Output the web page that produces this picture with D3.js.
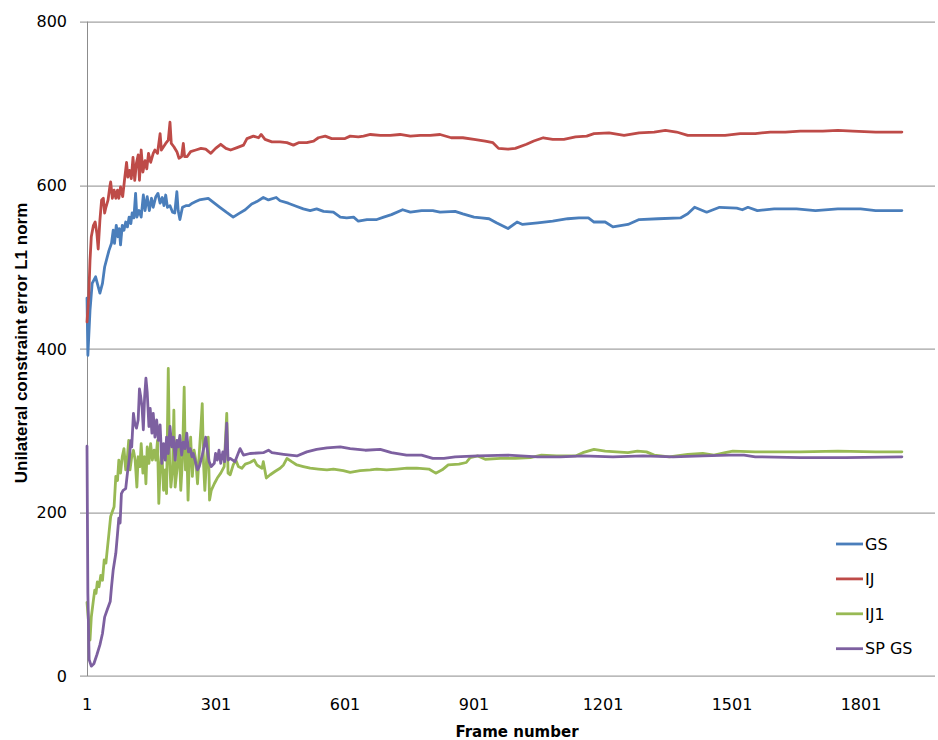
<!DOCTYPE html>
<html>
<head>
<meta charset="utf-8">
<script src="https://cdn.jsdelivr.net/npm/d3@7"></script>
<style>
  body { margin: 0; background: #fff; }
</style>
</head>
<body>
<div id="wrapper"></div>
<script>
// series names + colours
const seriesNames = ["GS", "IJ", "IJ1", "SP GS"];
const seriesColors = ["#4a7ebb", "#be4b48", "#98b954", "#7d60a0"];

// axis ticks
const yTicks = [0, 200, 400, 600, 800];
const xTicks = [1, 301, 601, 901, 1201, 1501, 1801];

// GS
const gsFrames = [1,3,8,13,21,27,31,37,42,48,52,58,62,65,69,73,76,79,83,87,91,95,99,103,106,110,114,117,122,127,132,136,141,146,151,155,161,166,171,176,180,184,188,194,200,205,210,213,217,223,231,238,246,254,262,283,310,325,341,353,369,384,396,411,423,441,450,469,489,504,520,535,551,574,590,605,621,632,652,675,691,709,735,753,779,805,822,857,875,901,918,936,953,980,1001,1014,1049,1084,1119,1145,1167,1180,1206,1224,1259,1285,1329,1381,1398,1414,1442,1472,1512,1525,1538,1560,1599,1651,1695,1747,1800,1835,1896];
const gsValues = [462,392,447,480,488,476,468,480,500,512,520,529,545,529,551,537,547,527,551,545,555,549,561,553,566,560,590,561,569,561,588,569,586,569,584,573,586,590,578,585,575,588,573,575,567,566,592,569,558,573,575,575,578,580,582,584,573,567,561,565,570,577,580,585,582,585,581,578,574,571,569,571,568,567,561,560,561,556,558,558,561,564,570,567,569,569,567,568,565,561,560,559,554,547,555,552,554,556,559,560,560,555,555,549,552,558,559,560,565,573,567,573,572,570,573,569,571,571,569,571,571,569,569];

// IJ
const ijFrames = [1,5,8,11,16,20,24,27,31,35,39,42,45,50,54,56,60,64,68,72,75,79,84,89,93,96,100,104,108,112,116,120,123,127,131,136,140,144,149,155,159,165,171,174,179,184,190,194,197,203,210,215,221,225,228,234,242,254,266,277,289,300,312,324,335,350,365,373,388,400,406,415,431,450,466,481,493,512,528,539,555,570,586,601,613,632,644,660,683,706,729,753,776,799,822,848,875,901,927,945,958,980,997,1023,1040,1062,1084,1110,1137,1163,1180,1215,1250,1285,1320,1346,1372,1398,1442,1485,1520,1555,1590,1625,1660,1712,1747,1782,1835,1896];
const ijValues = [433,463,508,537,551,555,541,522,557,582,584,566,573,582,598,604,584,594,584,594,584,598,586,610,628,610,618,608,634,606,627,637,606,643,616,630,620,639,628,639,643,639,663,643,647,651,655,677,651,647,641,633,635,651,635,635,641,643,645,644,639,645,650,645,643,646,649,657,660,658,662,656,653,653,652,649,652,652,654,658,660,657,657,657,660,659,660,662,661,661,662,660,661,661,662,658,658,656,654,652,645,644,645,650,654,658,656,656,659,660,663,664,661,664,665,667,665,661,661,661,663,663,665,665,666,666,667,666,665,665];

// IJ1
const ij1Frames = [1,8,11,16,19,22,25,29,33,37,41,45,48,52,56,60,64,68,72,75,79,83,87,91,95,98,101,105,109,113,117,120,124,127,131,135,138,141,145,149,153,157,161,165,168,171,175,179,183,186,190,193,196,200,203,206,211,215,219,223,227,230,233,236,239,242,246,250,254,258,262,266,269,272,275,279,283,286,290,297,304,312,320,326,329,334,341,347,353,361,369,380,390,396,408,411,418,427,438,450,458,466,477,489,504,520,539,559,574,597,613,636,660,675,698,722,745,768,796,812,827,841,866,883,892,910,927,962,997,1032,1058,1093,1137,1154,1180,1206,1232,1259,1281,1302,1320,1355,1398,1433,1459,1485,1503,1555,1660,1747,1835,1896];
const ij1Values = [90,44,72,93,105,101,115,109,123,117,142,138,154,174,195,201,207,244,239,264,248,268,278,252,268,288,252,268,276,264,231,268,256,284,248,268,235,280,260,284,264,276,264,288,211,252,276,227,252,223,376,264,231,252,325,231,256,288,227,264,353,252,284,215,264,292,244,276,264,235,272,305,333,260,227,264,292,215,227,235,242,248,256,321,248,246,258,264,256,254,259,261,264,258,254,262,242,246,250,254,258,266,262,258,256,254,253,252,253,251,249,251,252,253,252,253,254,254,253,248,252,258,259,261,267,269,265,266,266,267,270,269,269,273,277,275,274,273,275,274,270,268,271,272,270,273,275,274,274,275,274,274];

// SP GS
const spFrames = [1,3,6,11,17,24,31,37,42,48,55,58,62,68,72,75,78,81,85,91,95,99,103,105,109,112,116,120,123,126,129,132,135,138,141,145,148,152,155,159,163,167,171,175,179,183,186,190,194,198,202,206,210,213,217,221,225,229,233,237,241,245,248,252,258,262,266,269,273,277,281,285,290,297,300,304,308,312,317,321,326,329,334,345,357,365,380,411,423,431,458,489,512,535,559,590,613,648,683,709,744,779,805,831,857,910,980,1049,1102,1154,1224,1294,1364,1433,1494,1529,1555,1660,1765,1896];
const spValues = [281,101,20,12,15,26,38,52,72,81,91,109,130,150,174,193,187,223,227,229,248,264,288,280,321,309,303,313,351,341,329,301,341,364,347,305,327,297,321,292,313,288,307,260,284,264,292,272,305,280,292,264,288,280,294,270,286,278,297,274,278,268,272,264,252,256,264,270,280,292,276,262,256,260,272,264,276,260,274,262,309,264,266,262,278,270,272,273,276,273,271,269,274,277,279,280,278,276,277,273,270,270,266,266,268,269,270,268,268,269,268,269,268,269,270,270,268,267,267,268];

const seriesFrames = [gsFrames, ijFrames, ij1Frames, spFrames];
const seriesValues = [gsValues, ijValues, ij1Values, spValues];

const series = seriesNames.map((name, i) => ({
    name,
    color: seriesColors[i],
    points: seriesFrames[i].map((f, j) => ({frame: f, value: seriesValues[i][j]}))
}));

// dimensions
let dimensions = {
    width: 938,
    height: 740,
    margin: { top: 21.6, right: 3, bottom: 64, left: 87 }
};
dimensions.boundedWidth = dimensions.width - dimensions.margin.left - dimensions.margin.right;
dimensions.boundedHeight = dimensions.height - dimensions.margin.top - dimensions.margin.bottom;

const wrapper = d3.select("#wrapper")
    .append("svg")
    .attr("width", dimensions.width)
    .attr("height", dimensions.height);

const bounds = wrapper.append("g")
    .attr("transform", `translate(${dimensions.margin.left},${dimensions.margin.top})`);

// scales
const xScale = d3.scaleLinear()
    .domain([1, 1973])
    .range([0, dimensions.boundedWidth]);

const yScale = d3.scaleLinear()
    .domain([0, 800])
    .range([dimensions.boundedHeight, 0]);

const gridColor = "#8c8c8c";
const tickFont = "'DejaVu Sans', Verdana, sans-serif";

// gridlines + y tick marks
bounds.selectAll(".grid")
    .data(yTicks)
    .enter()
    .append("line")
    .attr("class", "grid")
    .attr("x1", -7)
    .attr("x2", dimensions.boundedWidth)
    .attr("y1", d => Math.round(yScale(d)) + 0.5)
    .attr("y2", d => Math.round(yScale(d)) + 0.5)
    .attr("stroke", gridColor)
    .attr("stroke-width", 1);

// y axis line
bounds.append("line")
    .attr("x1", 0.5).attr("x2", 0.5)
    .attr("y1", yScale(800)).attr("y2", yScale(0))
    .attr("stroke", gridColor);

// y tick labels
bounds.selectAll(".ylabel")
    .data(yTicks)
    .enter()
    .append("text")
    .attr("x", -20)
    .attr("y", d => yScale(d))
    .attr("dy", "0.36em")
    .attr("text-anchor", "end")
    .style("font-family", tickFont)
    .style("font-size", "16px")
    .attr("fill", "#000")
    .text(d => d);

// x tick labels
bounds.selectAll(".xlabel")
    .data(xTicks)
    .enter()
    .append("text")
    .attr("x", d => xScale(d))
    .attr("y", dimensions.boundedHeight + 34)
    .attr("text-anchor", "middle")
    .style("font-family", tickFont)
    .style("font-size", "16px")
    .attr("fill", "#000")
    .text(d => d);

// series lines
const lineGenerator = d3.line()
    .x(d => xScale(d.frame))
    .y(d => yScale(d.value));

bounds.selectAll(".series")
    .data(series)
    .enter()
    .append("path")
    .attr("class", "series")
    .attr("d", d => lineGenerator(d.points))
    .attr("fill", "none")
    .attr("stroke", d => d.color)
    .attr("stroke-width", 2.8)
    .attr("stroke-linejoin", "round")
    .attr("stroke-linecap", "round");

// axis titles
wrapper.append("text")
    .attr("x", 517)
    .attr("y", 737)
    .attr("text-anchor", "middle")
    .style("font-family", tickFont)
    .style("font-size", "15px")
    .style("font-weight", "bold")
    .text("Frame number");

wrapper.append("text")
    .attr("transform", "translate(27,343) rotate(-90)")
    .attr("text-anchor", "middle")
    .style("font-family", "'Liberation Sans', Arial, sans-serif")
    .style("font-size", "17px")
    .style("font-weight", "bold")
    .text("Unilateral constraint error L1 norm");

// legend
const legend = wrapper.append("g")
    .attr("transform", "translate(836,544)");

const legendItems = legend.selectAll("g")
    .data(series)
    .enter()
    .append("g")
    .attr("transform", (d, i) => `translate(0,${i * 34.9})`);

legendItems.append("line")
    .attr("x1", 0).attr("x2", 27)
    .attr("y1", 0).attr("y2", 0)
    .attr("stroke", d => d.color)
    .attr("stroke-width", 2.8);

legendItems.append("text")
    .attr("x", 29)
    .attr("dy", "0.36em")
    .style("font-family", tickFont)
    .style("font-size", "16px")
    .text(d => d.name);
</script>
</body>
</html>
